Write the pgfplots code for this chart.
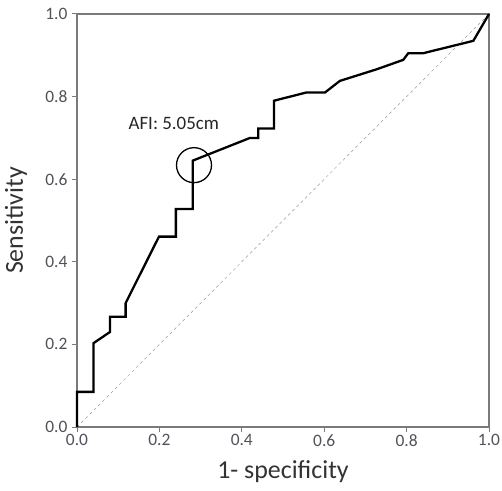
\documentclass[border=0pt]{standalone}
\usepackage{fontspec}
\setmainfont{Carlito}
\usepackage{pgfplots}
\pgfplotsset{compat=1.18}
\definecolor{axgray}{HTML}{7A7A7A}
\definecolor{txtgray}{HTML}{505258}
\begin{document}
\begin{tikzpicture}
\begin{axis}[
  scale only axis, width=412bp, height=413bp,
  xmin=0, xmax=1, ymin=0, ymax=1,
  xtick={0,0.2,...,1.0}, ytick={0,0.2,...,1.0},
  xticklabel style={yshift=1bp, /pgf/number format/fixed, /pgf/number format/fixed zerofill, /pgf/number format/precision=1},
  yticklabel style={xshift=-1bp, /pgf/number format/fixed, /pgf/number format/fixed zerofill, /pgf/number format/precision=1},
  /pgf/number format/assume math mode=true,
  tick align=outside, tick pos=left,
  major tick length=5bp,
  axis line style={axgray, line width=1.2pt},
  every tick/.style={axgray, line width=1pt},
  ticklabel style={font=\fontsize{17.5}{19}\selectfont, text=txtgray},
  xlabel={1- specificity}, ylabel={Sensitivity},
  label style={font=\fontsize{26}{29}\selectfont, text=black!80},
  xlabel style={at={(axis description cs:0.5,0)}, anchor=north, yshift=-30bp},
  ylabel style={at={(axis description cs:0,0.5)}, anchor=center, yshift=61bp},
  clip=false,
]
\addplot[gray!80, dashed, line width=0.5pt] coordinates {(0,0) (1,1)};
\addplot[black, line width=2.3pt, line join=miter] coordinates {
  (0,0) (0,0.085) (0.04,0.085) (0.04,0.203) (0.08,0.23) (0.08,0.267)
  (0.118,0.267) (0.118,0.30) (0.199,0.461) (0.24,0.461) (0.24,0.528)
  (0.281,0.528) (0.281,0.645) (0.42,0.70) (0.44,0.70) (0.44,0.723)
  (0.478,0.723) (0.478,0.79) (0.557,0.81) (0.602,0.81) (0.638,0.838)
  (0.727,0.866) (0.792,0.889) (0.804,0.905) (0.84,0.905) (0.962,0.935)
  (1,1)
};
\draw[black, line width=1.3pt] (axis cs:0.284,0.634) circle[radius=17.5bp];
\node[font=\fontsize{19}{22}\selectfont, text=black!85] at (axis cs:0.235,0.734) {AFI: 5.05cm};
\coordinate (ll) at (axis cs:0,0);
\coordinate (ur) at (axis cs:1,1);
\end{axis}
\pgfresetboundingbox
\path ([xshift=-77bp,yshift=-64bp]ll) rectangle ([xshift=13bp,yshift=14bp]ur);
\end{tikzpicture}
\end{document}
